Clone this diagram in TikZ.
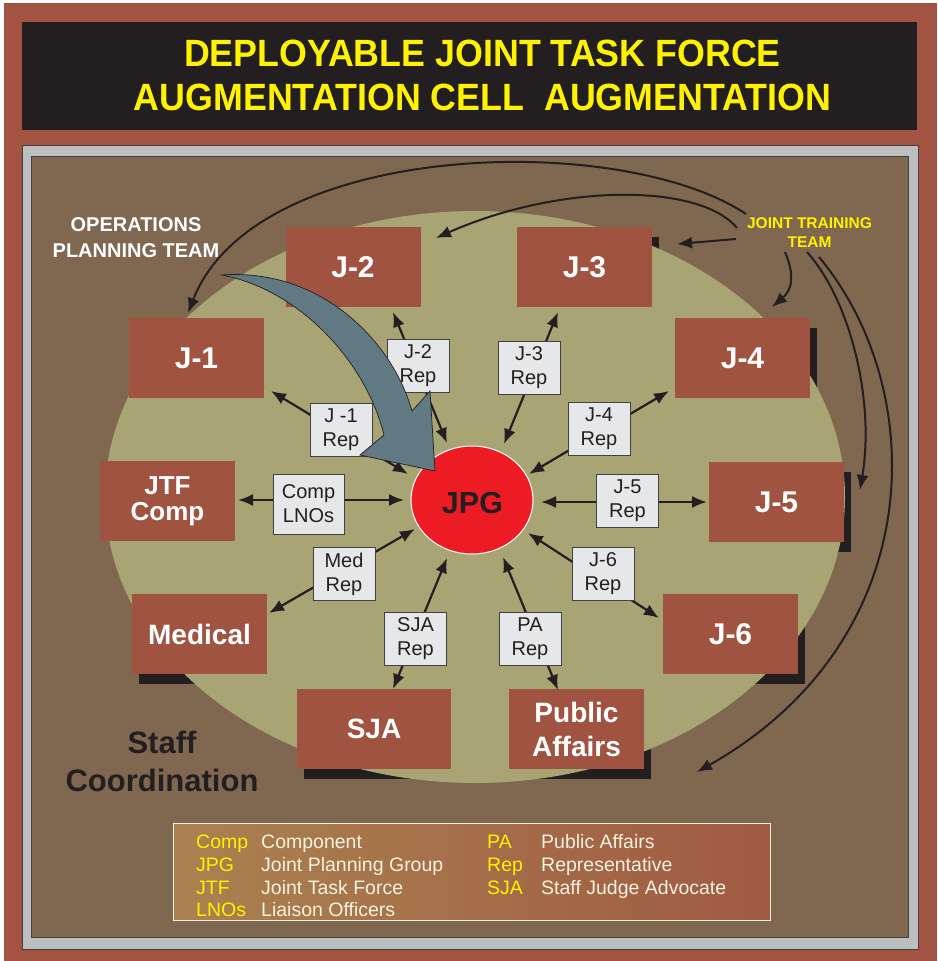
\documentclass[tikz,border=0pt]{standalone}
\usepackage{fontspec}
\setmainfont{Liberation Sans}
\usetikzlibrary{arrows.meta,shapes.geometric,shadings}
\definecolor{bgred}{RGB}{162,83,65}
\definecolor{titleblk}{RGB}{35,31,32}
\definecolor{greyfr}{RGB}{188,190,192}
\definecolor{frameedge}{RGB}{65,64,66}
\definecolor{brownin}{RGB}{128,104,80}
\definecolor{khaki}{RGB}{168,164,116}
\definecolor{boxred}{RGB}{161,83,66}
\definecolor{repgrey}{RGB}{230,231,232}
\definecolor{jpgred}{RGB}{237,28,36}
\definecolor{slate}{RGB}{97,121,131}
\definecolor{ylw}{RGB}{255,242,0}
\definecolor{txtdark}{RGB}{35,31,32}
\definecolor{cream}{RGB}{248,242,222}
\definecolor{legL}{RGB}{170,130,80}
\definecolor{legR}{RGB}{160,90,66}
\pgfdeclarelayer{back}
\pgfdeclarelayer{shad}
\pgfdeclarelayer{ell}
\pgfsetlayers{back,shad,ell,main}
\tikzset{
  box/.style={fill=boxred, minimum width=135pt, minimum height=80pt, inner sep=0pt, text=white, align=center, font=\bfseries\fontsize{28}{34}\selectfont},
  jbox/.style={box, font=\bfseries\fontsize{30}{34}\selectfont},
  rep/.style={fill=repgrey, draw=frameedge, line width=1pt, minimum width=62pt, minimum height=53pt, inner sep=0pt, text=txtdark, align=center, font=\fontsize{20}{24}\selectfont},
  conn/.style={line width=2.2pt, draw=txtdark, {Latex[length=15pt,width=12pt]}-{Latex[length=15pt,width=12pt]}},
  oneway/.style={line width=2pt, draw=txtdark, -{Latex[length=15pt,width=12pt]}},
  legab/.style={text=ylw, anchor=base west, inner sep=0pt, font=\fontsize{19.5}{23}\selectfont},
  legdesc/.style={text=cream, anchor=base west, inner sep=0pt, font=\fontsize{19.5}{23}\selectfont},
  titletext/.style={text=ylw, anchor=base, inner sep=0pt, font=\bfseries\fontsize{35.8}{40}\selectfont},
  shadowbox/.style={fill=titleblk},
}
\begin{document}
\begin{tikzpicture}[x=1pt,y=-1pt]
\begin{pgfonlayer}{back}
\fill[white] (0,0) rectangle (937,961);
\fill[bgred] (4,3) rectangle (937,961);
\fill[titleblk] (22,22) rectangle (917,130);
\filldraw[fill=greyfr, draw=frameedge, line width=1pt] (22,145) rectangle (918,949);
\filldraw[fill=brownin, draw=frameedge, line width=1pt] (31,156) rectangle (908,937);
\end{pgfonlayer}
\useasboundingbox (0,0) rectangle (937,961);

\begin{pgfonlayer}{ell}
\fill[khaki] (475,497) ellipse [x radius=370pt, y radius=286pt];
\end{pgfonlayer}

% title
\node[titletext] (t1) at (482.5,66) {\scalebox{1}[1.06]{DEPLOYABLE JOINT TASK FORCE}};
\node[titletext] (t2) at (482.5,110) {\scalebox{1}[1.06]{AUGMENTATION CELL\ \ AUGMENTATION}};

% staff boxes
\node[jbox] (j1) at (196.5,358) {J-1};
\node[jbox] (j2) at (353,267) {J-2};
\node[jbox] (j3) at (584.5,267) {J-3};
\node[jbox] (j4) at (742.5,358) {J-4};
\node[box, font=\bfseries\fontsize{26}{26}\selectfont] (jtf) at (167.5,501) {JTF\\Comp};
\node[jbox] (j5) at (776.5,502) {J-5};
\node[box] (med) at (199.5,634) {Medical};
\node[jbox] (j6) at (730.5,634) {J-6};
\node[box, minimum width=154pt] (sja) at (374,729) {SJA};
\node[box] (pa) at (576.5,729) {Public\\Affairs};

\begin{pgfonlayer}{shad}
\foreach \n in {j3,j4,j5,j6,pa,sja,med}
  \fill[shadowbox] ([shift={(7,10)}]\n.south west) rectangle ([shift={(7,10)}]\n.north east);
\end{pgfonlayer}

% connector tips
\coordinate (c1a) at (271,391); \coordinate (c1b) at (408,474);
\coordinate (c2a) at (393,312); \coordinate (c2b) at (447,443);
\coordinate (c3a) at (558,312); \coordinate (c3b) at (504,444);
\coordinate (c4a) at (669,391); \coordinate (c4b) at (529,474);
\coordinate (c5a) at (238,500); \coordinate (c5b) at (404,500);
\coordinate (c6a) at (269,613); \coordinate (c6b) at (415,529);
\coordinate (c7a) at (393,689); \coordinate (c7b) at (447,558);
\coordinate (c8a) at (541,502); \coordinate (c8b) at (707,502);
\coordinate (c9a) at (528,533); \coordinate (c9b) at (659,618);
\coordinate (c10a) at (503,557); \coordinate (c10b) at (558,690);
\foreach \i in {1,...,10} \draw[conn] (c\i a) -- (c\i b);

% joint training team
\node[text=ylw, align=center, inner sep=0pt, font=\bfseries\fontsize{15.5}{19}\selectfont] (jtt) at (809.5,233) {JOINT TRAINING\\TEAM};
\coordinate (ja) at (746,214);
\coordinate (jb) at (737,228);
\coordinate (jc) at (736,239);
\coordinate (jd) at (785,252);
\coordinate (je) at (807,252);
\coordinate (jf) at (819,257);
\coordinate (ea) at (188,313);
\coordinate (eb) at (436,238);
\coordinate (ec) at (677,244);
\coordinate (ed) at (772,307);
\coordinate (ee) at (860,490);
\coordinate (ef) at (697,772);
\draw[oneway] (ja) .. controls (620,130) and (255,140) .. (ea);
\draw[oneway] (jb) .. controls (700,183) and (560,183) .. (eb);
\draw[oneway] (jc) -- (ec);
\draw[oneway] (jd) .. controls (795,275) and (792,290) .. (ed);
\draw[oneway] (je) .. controls (850,300) and (875,400) .. (ee);
\draw[oneway] (jf) .. controls (930,390) and (930,640) .. (ef);

% rep boxes
\node[rep] (j1r) at (341,430) {J -1\\Rep};
\node[rep] (j2r) at (418,365.5) {J-2\\Rep};
\node[rep] (j3r) at (529,368) {J-3\\Rep};
\node[rep] (j4r) at (599,429) {J-4\\Rep};
\node[rep, minimum width=71pt, minimum height=60pt] (lno) at (308.5,504) {Comp\\LNOs};
\node[rep] (j5r) at (627.5,500.5) {J-5\\Rep};
\node[rep] (medr) at (344,574) {Med\\Rep};
\node[rep] (j6r) at (603,574) {J-6\\Rep};
\node[rep] (sjar) at (415.5,639) {SJA\\Rep};
\node[rep] (par) at (530,639) {PA\\Rep};

% JPG
\node[ellipse, fill=jpgred, draw=white, line width=1pt, minimum width=122pt, minimum height=108pt, inner sep=0pt] (jpg) at (472,500) {};
\node[text=txtdark, inner sep=0pt, font=\bfseries\fontsize{30.5}{30.5}\selectfont] (jpgt) at (472.5,503) {JPG};

% operations planning team arrow
\node[text=white, align=center, inner sep=0pt, font=\bfseries\fontsize{20}{26}\selectfont] (opt) at (136,238) {OPERATIONS\\PLANNING TEAM};
\filldraw[fill=slate, draw=txtdark, line width=0.7pt] (222,275) .. controls (320,268) and (392,340) .. (412,411) -- (430,391) -- (435,471) -- (360,455) -- (384,435) .. controls (366,362) and (300,290) .. cycle;

% staff coordination
\node[text=txtdark, align=center, inner sep=0pt, font=\bfseries\fontsize{31}{38}\selectfont] (sc) at (162,761) {Staff\\Coordination};

% legend
\node[draw=cream, line width=1pt, left color=legL, right color=legR, minimum width=597pt, minimum height=97pt, anchor=north west, inner sep=0pt] (leg) at (173,823) {};
\node[legab] (lc) at (196,848) {Comp};
\node[legdesc] (ldc) at (261,848) {Component};
\node[legab] (lj) at (196,871) {JPG};
\node[legdesc] (ldj) at (261,871) {Joint Planning Group};
\node[legab] (lt) at (196,894) {JTF};
\node[legdesc] (ldt) at (261,894) {Joint Task Force};
\node[legab] (ll) at (196,916) {LNOs};
\node[legdesc] (ldl) at (261,916) {Liaison Officers};
\node[legab] (lp) at (487,848) {PA};
\node[legdesc] (ldp) at (541,848) {Public Affairs};
\node[legab] (lr) at (487,871) {Rep};
\node[legdesc] (ldr) at (541,871) {Representative};
\node[legab] (ls) at (487,894) {SJA};
\node[legdesc] (lds) at (541,894) {Staff Judge Advocate};
\end{tikzpicture}
\end{document}
